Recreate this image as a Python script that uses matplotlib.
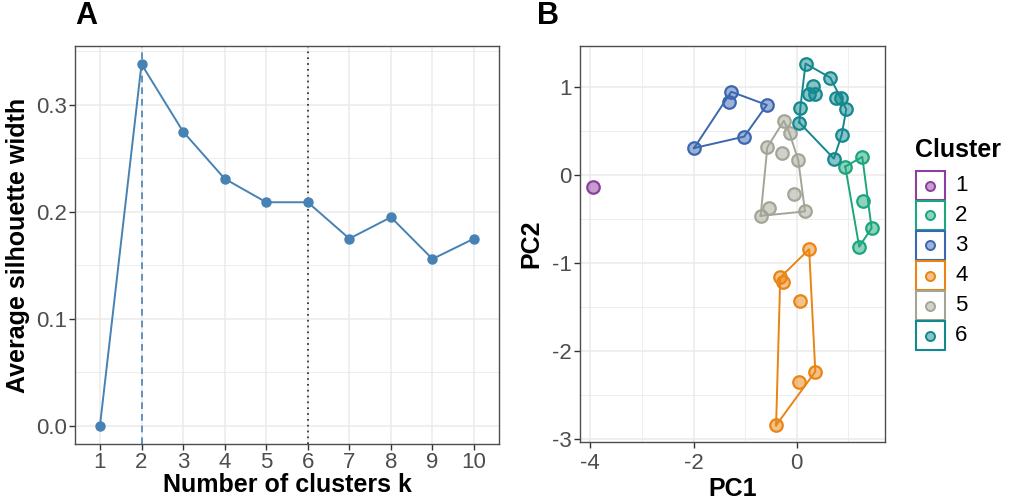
import matplotlib
matplotlib.use("Agg")
import matplotlib.pyplot as plt
import numpy as np
from matplotlib.colors import to_rgba
from matplotlib.lines import Line2D
from matplotlib.patches import Rectangle
from matplotlib.ticker import MultipleLocator

plt.rcParams['font.family'] = ['Liberation Sans', 'DejaVu Sans']
plt.rcParams['axes.unicode_minus'] = False

# Panel A data
k_values = [1, 2, 3, 4, 5, 6, 7, 8, 9, 10]
sil_width = [0.0, 0.338, 0.275, 0.231, 0.209, 0.209, 0.175, 0.195, 0.156, 0.175]
best_k = 2
chosen_k = 6

# Panel B data (PC scores per cluster)
clusters = ['1', '2', '3', '4', '5', '6']
pc1_c1 = [-3.94]
pc2_c1 = [-0.13]
pc1_c2 = [1.27, 0.94, 1.29, 1.45, 1.21]
pc2_c2 = [0.21, 0.10, -0.29, -0.60, -0.81]
pc1_c3 = [-1.27, -1.31, -0.58, -1.02, -1.99]
pc2_c3 = [0.95, 0.83, 0.80, 0.44, 0.31]
pc1_c4 = [0.24, -0.32, -0.26, 0.06, 0.36, 0.05, -0.40]
pc2_c4 = [-0.84, -1.16, -1.21, -1.43, -2.23, -2.35, -2.84]
pc1_c5 = [-0.25, -0.14, -0.57, -0.29, 0.03, -0.06, -0.53, -0.70, 0.16]
pc2_c5 = [0.62, 0.48, 0.32, 0.25, 0.17, -0.21, -0.37, -0.46, -0.41]
pc1_c6 = [0.17, 0.65, 0.32, 0.23, 0.36, 0.76, 0.85, 0.96, 0.07, 0.05, 0.87, 0.72]
pc2_c6 = [1.27, 1.11, 1.02, 0.93, 0.93, 0.88, 0.88, 0.75, 0.77, 0.60, 0.46, 0.19]
pc1_all = [pc1_c1, pc1_c2, pc1_c3, pc1_c4, pc1_c5, pc1_c6]
pc2_all = [pc2_c1, pc2_c2, pc2_c3, pc2_c4, pc2_c5, pc2_c6]
cluster_colors = ['#8C3F9E', '#1BA67D', '#3B66B0', '#EA8414', '#A3A697', '#13888F']


def convex_hull(xs, ys):
    pts = sorted(set(zip(xs, ys)))
    if len(pts) < 3:
        return pts

    def cross(o, a, b):
        return (a[0] - o[0]) * (b[1] - o[1]) - (a[1] - o[1]) * (b[0] - o[0])

    lower, upper = [], []
    for p in pts:
        while len(lower) >= 2 and cross(lower[-2], lower[-1], p) <= 0:
            lower.pop()
        lower.append(p)
    for p in reversed(pts):
        while len(upper) >= 2 and cross(upper[-2], upper[-1], p) <= 0:
            upper.pop()
        upper.append(p)
    return lower[:-1] + upper[:-1]


def style_axes(ax):
    ax.set_facecolor('white')
    for s in ax.spines.values():
        s.set_color('#4D4D4D')
        s.set_linewidth(1.0)
    ax.grid(True, which='major', color='#EBEBEB', linewidth=1.1, zorder=0)
    ax.grid(True, which='minor', color='#EBEBEB', linewidth=0.6, zorder=0)
    ax.set_axisbelow(True)
    ax.tick_params(which='major', length=4, width=1, color='#333333',
                   labelsize=16, labelcolor='#4D4D4D', pad=2)
    ax.tick_params(which='minor', length=0)


fig = plt.figure(figsize=(10.13, 5.01), dpi=100)
W, H = 1013, 501

# Panel A
axA = fig.add_axes([75 / W, 1 - 444 / H, 424 / W, 398 / H])
style_axes(axA)
axA.plot(k_values, sil_width, color='#4682B4', lw=1.4, marker='o', ms=6.5, zorder=3)
axA.axvline(best_k, color='#4682B4', lw=1.2, ls=(0, (4, 3)), zorder=2)
axA.axvline(chosen_k, color='#222222', lw=1.2, ls=(0, (1, 2.5)), zorder=2)
axA.set_xlim(0.4, 10.6)
axA.set_ylim(-0.0169, 0.355)
axA.set_xticks(k_values)
axA.xaxis.set_minor_locator(plt.NullLocator())
axA.set_yticks([0, 0.1, 0.2, 0.3])
axA.set_yticklabels(['0.0', '0.1', '0.2', '0.3'])
axA.yaxis.set_minor_locator(MultipleLocator(0.05))
axA.set_xlabel('Number of clusters k', fontsize=18, fontweight='bold', labelpad=0)
axA.set_ylabel('Average silhouette width', fontsize=18, fontweight='bold', labelpad=4)
fig.text(75 / W, 1 - 16 / H, 'A', fontsize=22, fontweight='bold', va='center', ha='left')

# Panel B
axB = fig.add_axes([580 / W, 1 - 442 / H, 305 / W, 396 / H])
style_axes(axB)
for cl, xs, ys, col in zip(clusters, pc1_all, pc2_all, cluster_colors):
    hull = convex_hull(xs, ys)
    if len(hull) > 1:
        hx = [p[0] for p in hull] + [hull[0][0]]
        hy = [p[1] for p in hull] + [hull[0][1]]
        axB.plot(hx, hy, color=col, lw=1.4, zorder=2)
    axB.plot(xs, ys, ls='none', marker='o', ms=9, mew=1.6, mec=col,
             mfc=to_rgba(col, 0.5), zorder=3)
axB.set_xlim(-4.2, 1.71)
axB.set_ylim(-3.03, 1.47)
axB.xaxis.set_major_locator(MultipleLocator(2))
axB.xaxis.set_minor_locator(MultipleLocator(1))
axB.yaxis.set_major_locator(MultipleLocator(1))
axB.yaxis.set_minor_locator(MultipleLocator(0.5))
axB.tick_params(axis='x', pad=4)
axB.set_xlabel('PC1', fontsize=18, fontweight='bold', labelpad=2)
axB.set_ylabel('PC2', fontsize=18, fontweight='bold', labelpad=6)
fig.text(537 / W, 1 - 16 / H, 'B', fontsize=22, fontweight='bold', va='center', ha='left')

# Legend (ggplot style keys: colored box with a dot)
fig.text(915 / W, 1 - 150 / H, 'Cluster', fontsize=18, fontweight='bold',
         va='center', ha='left')
for i, (cl, col) in enumerate(zip(clusters, cluster_colors)):
    top = 171 + 30 * i
    fig.add_artist(Rectangle((915.5 / W, 1 - (top + 29) / H), 29 / W, 29 / H,
                             transform=fig.transFigure, facecolor='white',
                             edgecolor=col, lw=1.5))
    fig.add_artist(Line2D([930 / W], [1 - (top + 14.5) / H], transform=fig.transFigure,
                          ls='none', marker='o', ms=6.5, mew=1.4, mec=col,
                          mfc=to_rgba(col, 0.5)))
    fig.text(955 / W, 1 - (top + 14.5) / H, cl, fontsize=16, va='center', ha='left')

fig.savefig('out.png', dpi=100, facecolor='white')
